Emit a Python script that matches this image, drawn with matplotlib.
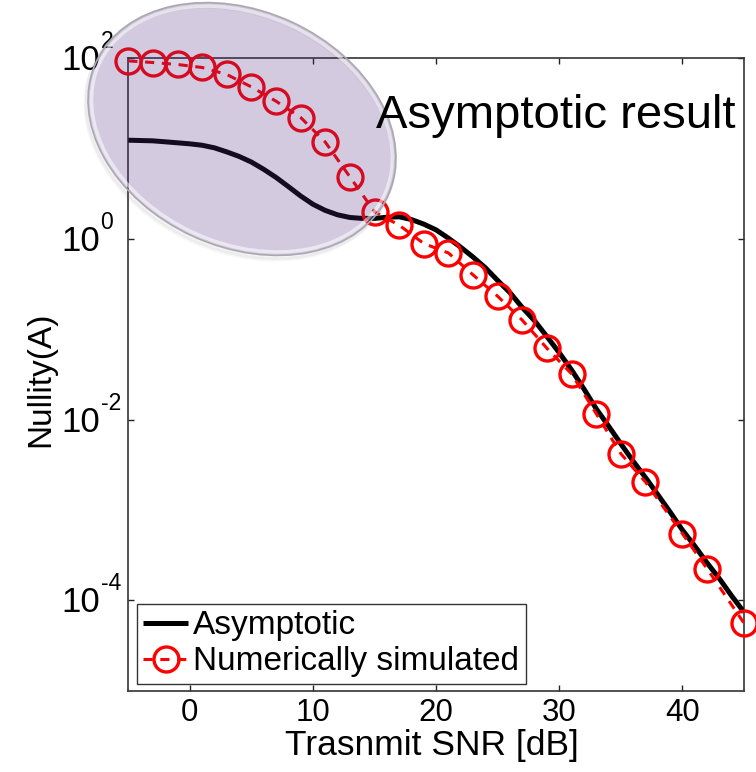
import matplotlib
matplotlib.use("Agg")
import matplotlib.pyplot as plt
from matplotlib.patches import Ellipse
from matplotlib.transforms import IdentityTransform, blended_transform_factory, offset_copy
import numpy as np

plt.rcParams['font.family'] = ['Liberation Sans', 'DejaVu Sans']

# Asymptotic curve
snr_asym = [-5, -4, -3, -2, -1, 0, 1, 2, 3, 4, 5, 6, 7, 8, 9, 10, 11, 12, 13,
            14, 15, 16, 17, 18, 19, 20, 21, 22, 23, 24, 25, 26, 27, 28, 29, 30,
            31, 32, 33, 34, 35, 36, 37, 38, 39, 40, 41, 42, 43, 44, 45]
nullity_asym = [12.4, 12.3, 12.2, 11.9, 11.6, 11.3, 10.9, 10.2, 9.2, 8.2, 7.1,
                5.9, 4.8, 3.8, 2.99, 2.42, 2.07, 1.85, 1.73, 1.69, 1.69, 1.74,
                1.76, 1.64, 1.46, 1.26, 1.02, 0.81, 0.63, 0.48, 0.347, 0.254,
                0.174, 0.124, 0.083, 0.055, 0.0355, 0.0219, 0.0132, 0.0085,
                0.0054, 0.00347, 0.00229, 0.00148, 0.00095, 0.00060, 0.00040,
                0.00026, 0.000174, 0.000112, 0.000074]

# Numerically simulated points
snr_sim = [-5, -3, -1, 1, 3, 5, 7, 9, 11, 13, 15, 17, 19, 21, 23, 25, 27, 29,
           31, 33, 35, 37, 40, 42, 45]
nullity_sim = [93.6, 89.8, 85.4, 79.1, 66.2, 48.2, 33.5, 22.1, 11.8, 4.86,
               2.0, 1.42, 0.89, 0.70, 0.40, 0.232, 0.126, 0.0616, 0.0321,
               0.01165, 0.0042, 0.00204, 5.47e-4, 2.24e-4, 5.6e-5]

xticks = [0, 10, 20, 30, 40]
yticks = [1e-4, 1e-2, 1e0, 1e2]
ytick_exps = ['-4', '-2', '0', '2']

W, H = 756, 772
AX_L, AX_R, AX_T, AX_B = 128.3, 744.0, 58.3, 690.7
fig = plt.figure(figsize=(W / 100, H / 100), dpi=100)
ax = fig.add_axes([AX_L / W, 1 - AX_B / H, (AX_R - AX_L) / W, (AX_B - AX_T) / H])

ax.plot(snr_asym, nullity_asym, color='black', lw=3.6, label='Asymptotic',
        zorder=3, solid_joinstyle='round', solid_capstyle='butt')
ax.plot(snr_sim, nullity_sim, color='red', lw=2.2, ls=(0, (3, 2.5)), marker='o',
        markersize=18, markerfacecolor='none', markeredgewidth=2.4,
        label='Numerically simulated', zorder=4, clip_on=False)

ax.set_yscale('log')
ax.set_xlim(-5, 45)
ax.set_ylim(1e-5, 1e2)
ax.set_xticks(xticks)
ax.set_xticklabels([str(t) for t in xticks], fontsize=22.5)
ax.set_yticks(yticks)
ax.set_yticklabels([''] * len(yticks))
ax.yaxis.set_minor_locator(matplotlib.ticker.NullLocator())
ax.tick_params(direction='in', length=4, width=1, top=True, right=True,
               colors='#222222', labelcolor='black')
ax.tick_params(axis='x', pad=5)
for s in ax.spines.values():
    s.set_linewidth(1.2)
    s.set_color('#333333')

# y tick labels: "10" with superscript exponent
btr = blended_transform_factory(ax.transAxes, ax.transData)
x_lab = (100 - AX_L) / (AX_R - AX_L)
for yv, ex in zip(yticks, ytick_exps):
    ax.text(x_lab, yv, '10', fontsize=25, ha='right', va='baseline',
            transform=offset_copy(btr, fig, x=0, y=-12, units='dots'),
            clip_on=False)
    ax.text(x_lab, yv, ex, fontsize=16.5, ha='left', va='baseline',
            transform=offset_copy(btr, fig, x=0.5, y=10, units='dots'),
            clip_on=False)

ax.set_xlabel('Trasnmit SNR [dB]', fontsize=25.5)
ax.xaxis.label.set_va('baseline')
ax.xaxis.set_label_coords((431.7 - AX_L) / (AX_R - AX_L), -(755 - AX_B) / (AX_B - AX_T))
ax.set_ylabel('Nullity(A)', fontsize=24)
ax.yaxis.set_label_coords((56 - AX_L) / (AX_R - AX_L), (AX_B - 379) / (AX_B - AX_T))

leg = ax.legend(loc='lower left', fontsize=24, frameon=True, fancybox=False,
                edgecolor='black', handlelength=1.35, handletextpad=0.15,
                borderpad=0.2, labelspacing=0.15, borderaxespad=0.0,
                bbox_to_anchor=(136.7 / W, 1 - 684 / H),
                bbox_transform=fig.transFigure)
leg.get_frame().set_linewidth(1.0)
leg.set_zorder(6)

# shaded ellipse overlay (in pixel coordinates)
cx, cy = 242, H - 129
EW, EH, ANG = 321, 236, -24.6
for k, a in [(4, 0.05), (2.5, 0.07)]:
    sh = Ellipse((cx - k * 0.6, cy - k), EW, EH, angle=ANG, facecolor='none',
                 edgecolor=(0.4, 0.4, 0.4, a), lw=3, transform=IdentityTransform())
    fig.patches.append(sh)
ell = Ellipse((cx, cy), EW, EH, angle=ANG, facecolor=(87/255, 47/255, 135/255, 0.25),
              edgecolor='#aaa9b2', lw=1.2, transform=IdentityTransform(), zorder=5)
fig.patches.append(ell)
hl = Ellipse((cx, cy), EW - 7, EH - 7, angle=ANG, facecolor='none',
             edgecolor=(1, 1, 1, 0.55), lw=2.5, transform=IdentityTransform(), zorder=5)
fig.patches.append(hl)

fig.text(376 / W, 1 - 128 / H, 'Asymptotic result', fontsize=34, ha='left',
         va='baseline', zorder=10)

fig.savefig('out.png', dpi=100)
